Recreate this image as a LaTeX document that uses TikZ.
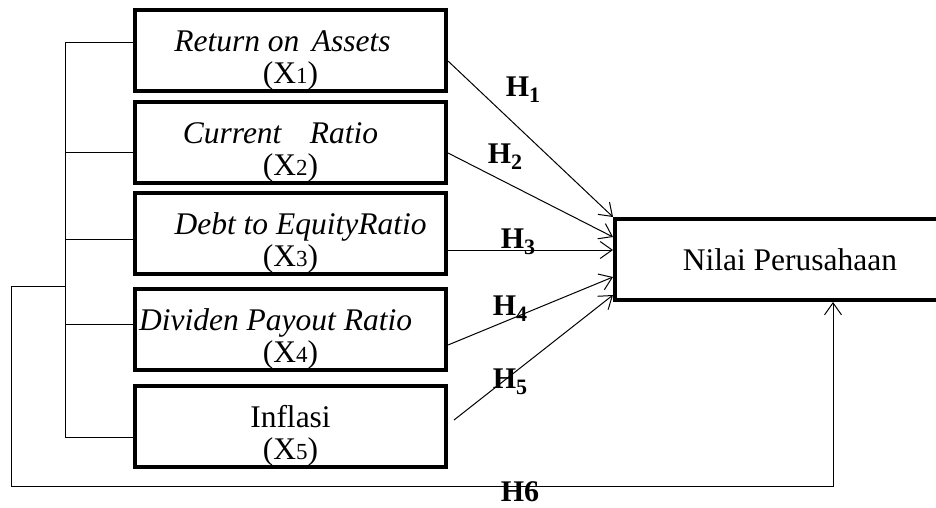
\documentclass[tikz,border=0pt]{standalone}
\usepackage{fontspec}
\setmainfont{Liberation Serif}
\usetikzlibrary{arrows.meta, positioning}
\tikzset{
x=1pt, y=-1pt,
>={Straight Barb[length=12pt,width=17pt]}, % open arrow heads
var box/.style={draw, line width=4pt, minimum width=311pt, minimum height=81pt, inner sep=0pt, font=\fontsize{31.5}{32}\selectfont},
target box/.style={draw, line width=4pt, minimum width=350pt, minimum height=81pt, font=\fontsize{31.5}{34}\selectfont},
hyp/.style={inner sep=0pt, font=\fontsize{30}{30}\selectfont\bfseries},
link/.style={line width=1pt},
}
\newcommand{\sm}[1]{{\fontsize{23}{23}\selectfont #1}}
% two lines, set a little low in the box
\newcommand{\twoline}[2]{\raisebox{-11pt}[\height][\depth]{\begin{tabular}{@{}c@{}}#1\\#2\end{tabular}}}
\newcommand{\hsub}[1]{\textbf{H}\raisebox{-6pt}{\fontsize{22}{22}\selectfont\textbf{#1}}}

\begin{document}
\begin{tikzpicture}
\clip (0,0) rectangle (936,507);

\node[var box] (1) at (290.5,50.5) {\twoline{\textit{Return on\hspace{0.4em}Assets}\hspace*{16pt}}{(X\sm{1})}};
\node[var box] (2) at (290.5,142.5) {\twoline{\textit{Current\hspace{0.9em}Ratio}\hspace*{20pt}}{(X\sm{2})}};
\node[var box] (3) at (290.5,233) {\twoline{\hspace*{20pt}\textit{Debt to EquityRatio}}{(X\sm{3})}};
\node[var box] (4) at (290.5,329) {\twoline{\textit{Dividen Payout Ratio}\hspace*{30pt}}{(X\sm{4})}};
\node[var box] (5) at (290.5,426.5) {\twoline{Inflasi}{(X\sm{5})}};
\node[target box] (y) at (790,259.5) {Nilai Perusahaan};

% bracket on the left
\draw[link] (1.west |- 0,42) -| (65,437) -- (5.west |- 0,437);
\draw[link] (65,152) -- (2.west |- 0,152);
\draw[link] (65,239) -- (3.west |- 0,239);
\draw[link] (65,324) -- (4.west |- 0,324);
\coordinate (k) at (65,286);

\draw[link, ->] (1.east |- 0,61) -- (y.north west);
\draw[link, ->] (2.east |- 0,153) -- (y.west |- 0,237);
\draw[link, ->] (3.east |- 0,250) -- (y.west |- 0,250);
\draw[link, ->] (4.east |- 0,345) -- ([yshift=1pt]y.west |- 0,278);
\draw[link, ->] ([xshift=6pt]5.east |- 0,420) -- (y.west |- 0,295);
\draw[link, ->] (k) -- (11,286) |- (833,486) -- (y.south -| 833,0);

\node[hyp] (h1) at (523,90) {\hsub{1}};
\node[hyp] (h2) at (505,157) {\hsub{2}};
\node[hyp] (h3) at (518,242) {\hsub{3}};
\node[hyp] (h4) at (510,309) {\hsub{4}};
\node[hyp] (h5) at (510,382) {\hsub{5}};
\node[hyp] (h6) at (520,492) {H6};

\end{tikzpicture}
\end{document}
